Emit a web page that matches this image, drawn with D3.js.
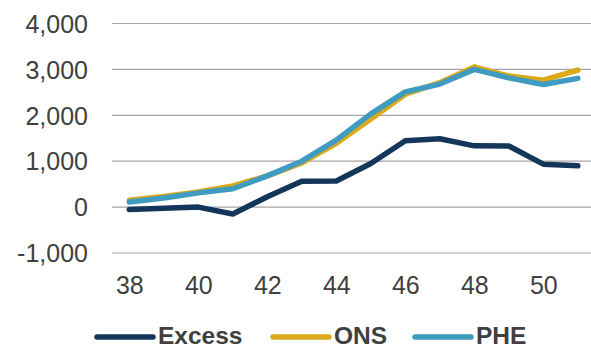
<!DOCTYPE html>
<html><head><meta charset="utf-8">
<script src="https://cdn.jsdelivr.net/npm/d3@7"></script>
<style>html,body{margin:0;padding:0;background:#fff;}svg{display:block;}</style>
</head><body>
<script>
const weeks = [38,39,40,41,42,43,44,45,46,47,48,49,50,51];
const excess = [-50,-25,0,-150,225,565,570,950,1445,1490,1335,1330,935,900];
const ons = [150,230,330,460,680,965,1390,1920,2460,2710,3055,2855,2765,2985];
const phe = [110,200,310,400,680,1000,1460,2030,2510,2680,3000,2815,2670,2805];
const yTicks = [-1000,0,1000,2000,3000,4000];
const xTicks = [38,40,42,44,46,48,50];
const seriesNames = ["Excess","ONS","PHE"];
const colors = ["#15365b","#dbaa18","#409bc0"];

const W = 591, H = 349;
const svg = d3.select("body").append("svg").attr("width",W).attr("height",H);
const x = d3.scaleLinear().domain([38,51]).range([129.3,577.8]);
const y = d3.scaleLinear().domain([-1000,4000]).range([253,23.5]);
const txt = "#404040";
const font = "'Liberation Sans', Arial, sans-serif";

// gridlines
svg.append("g").selectAll("line").data(yTicks).join("line")
  .attr("x1",112).attr("x2",591)
  .attr("y1",d=>y(d)).attr("y2",d=>y(d))
  .attr("stroke","#a6a6a6").attr("stroke-width",1.2);

// y axis labels
const fmt = d3.format(",");
const yAxis = d3.axisLeft(y).tickValues(yTicks).tickSize(0).tickPadding(0)
  .tickFormat(d => fmt(d).replace("\u2212","-"));
const gy = svg.append("g").attr("transform","translate(88,0)").call(yAxis);
gy.select(".domain").remove();
gy.selectAll("text").attr("font-family",font).attr("font-size",25).attr("fill",txt).attr("dy","0.35em");

// x axis labels
const xAxis = d3.axisBottom(x).tickValues(xTicks).tickSize(0).tickPadding(0);
const gx = svg.append("g").attr("transform","translate(0,294)").call(xAxis);
gx.select(".domain").remove();
gx.selectAll("text").attr("font-family",font).attr("font-size",25).attr("fill",txt).attr("dy","0");

const line = d3.line().x((d,i)=>x(weeks[i])).y(d=>y(d));
[excess,ons,phe].forEach((s,k)=>{
  svg.append("path").datum(s).attr("d",line)
    .attr("fill","none").attr("stroke",colors[k]).attr("stroke-width",5.5)
    .attr("stroke-linejoin","round").attr("stroke-linecap","round");
});

// legend
const legX = [97,273,415];
seriesNames.forEach((n,k)=>{
  svg.append("line").attr("x1",legX[k]).attr("x2",legX[k]+56)
    .attr("y1",337).attr("y2",337).attr("stroke",colors[k]).attr("stroke-width",5.5)
    .attr("stroke-linecap","round");
  svg.append("text").attr("x",legX[k]+61).attr("y",343.5)
    .attr("font-family",font).attr("font-size",24.5).attr("font-weight","bold")
    .attr("fill",txt).text(n);
});
</script>
</body></html>
